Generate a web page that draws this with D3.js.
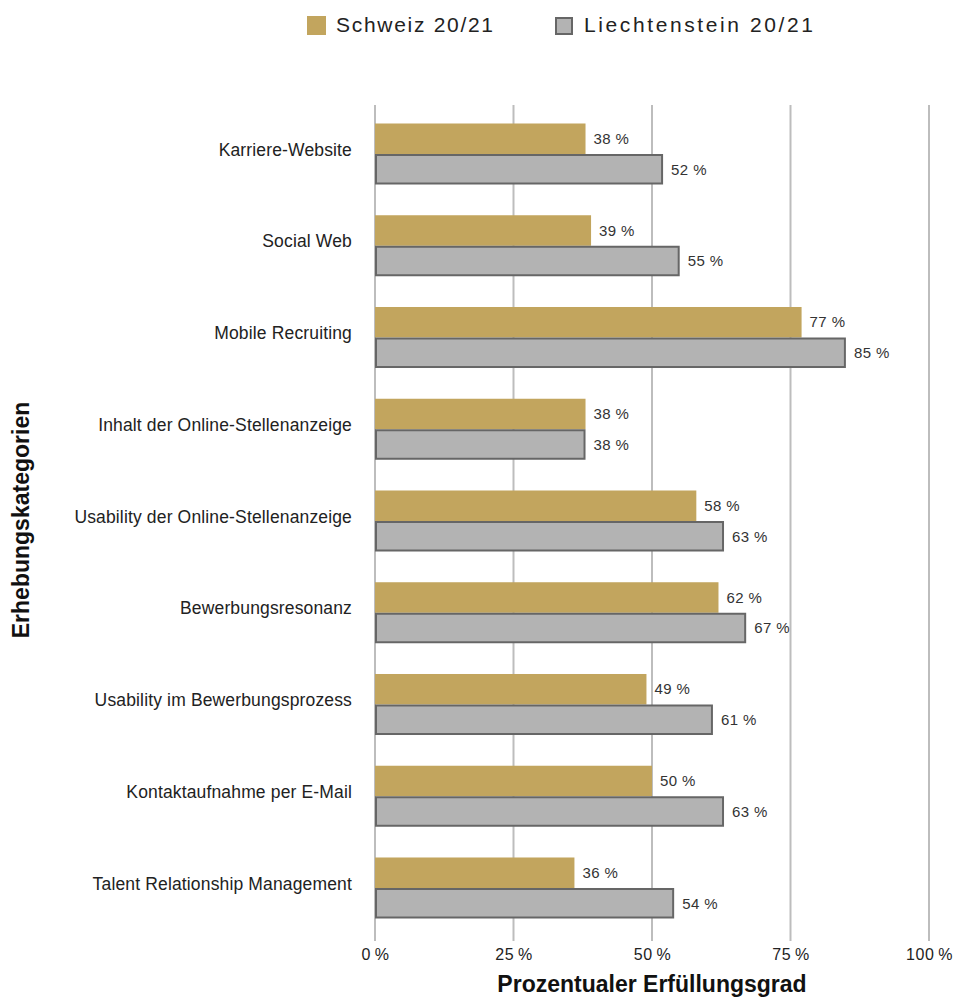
<!DOCTYPE html>
<html><head><meta charset="utf-8">
<script src="https://cdn.jsdelivr.net/npm/d3@7/dist/d3.min.js"></script>
<style>body{margin:0;background:#fff}svg{display:block}</style>
</head><body>
<script>
const categories = ["Karriere-Website","Social Web","Mobile Recruiting","Inhalt der Online-Stellenanzeige","Usability der Online-Stellenanzeige","Bewerbungsresonanz","Usability im Bewerbungsprozess","Kontaktaufnahme per E-Mail","Talent Relationship Management"];
const schweiz = [38,39,77,38,58,62,49,50,36];
const liechtenstein = [52,55,85,38,63,67,61,63,54];
const seriesNames = ["Schweiz 20/21","Liechtenstein 20/21"];
const xTicks = [0,25,50,75,100];

const W=958,H=997;
const svg=d3.select("body").append("svg").attr("width",W).attr("height",H);
const font="'Liberation Sans', Arial, sans-serif";
const narrow="'Liberation Sans Narrow', 'Liberation Sans', Arial, sans-serif";
const gold="#c2a55e", grey="#b3b3b3", greyStroke="#666";

const x=d3.scaleLinear().domain([0,100]).range([375,929]);
const y=d3.scaleBand().domain(categories).range([104,938]).paddingInner(0.335).paddingOuter(0.2125);
const sub=d3.scaleBand().domain([0,1]).range([0,y.bandwidth()]);

// gridlines
svg.append("g").selectAll("line").data(xTicks).join("line")
  .attr("x1",d=>x(d)).attr("x2",d=>x(d)).attr("y1",105).attr("y2",941)
  .attr("stroke","#bdbdbd").attr("stroke-width",2);

// axis tick labels
const xAxis=d3.axisBottom(x).tickValues(xTicks).tickSize(0).tickFormat(d=>d+"\u2009%");
const ga=svg.append("g").attr("transform","translate(0,943)").call(xAxis);
ga.select(".domain").remove();
ga.selectAll("text").attr("font-family",font).attr("font-size",16).attr("letter-spacing","0.6px").attr("fill","#222").attr("dy","0.85em");

// bars
const rows=categories.map((c,i)=>({c,s:schweiz[i],l:liechtenstein[i]}));
const g=svg.append("g");
g.selectAll("rect.s").data(rows).join("rect").attr("class","s")
  .attr("x",x(0)).attr("y",d=>y(d.c)+sub(0)).attr("width",d=>x(d.s)-x(0)).attr("height",sub.bandwidth())
  .attr("fill",gold);
g.selectAll("rect.l").data(rows).join("rect").attr("class","l")
  .attr("x",x(0)+1).attr("y",d=>y(d.c)+sub(1)+1).attr("width",d=>x(d.l)-x(0)-2).attr("height",sub.bandwidth()-2)
  .attr("fill",grey).attr("stroke",greyStroke).attr("stroke-width",2);

// value labels
g.selectAll("text.vs").data(rows).join("text").attr("class","vs")
  .attr("x",d=>x(d.s)+8).attr("y",d=>y(d.c)+sub(0)+sub.bandwidth()/2).attr("dy","0.35em")
  .attr("font-family",font).attr("font-size",15).attr("letter-spacing","0.4px").attr("fill","#333").text(d=>d.s+" %");
g.selectAll("text.vl").data(rows).join("text").attr("class","vl")
  .attr("x",d=>x(d.l)+8).attr("y",d=>y(d.c)+sub(1)+sub.bandwidth()/2).attr("dy","0.35em")
  .attr("font-family",font).attr("font-size",15).attr("letter-spacing","0.4px").attr("fill","#333").text(d=>d.l+" %");

// category labels
const yAxis=d3.axisLeft(y).tickSize(0).tickPadding(0);
const gy=svg.append("g").attr("transform","translate(352,-4)").call(yAxis);
gy.select(".domain").remove();
gy.selectAll("text").attr("font-family",font).attr("font-size",17.5).attr("letter-spacing","0.15px").attr("fill","#222");

// axis titles
svg.append("text").attr("x",652).attr("y",992).attr("text-anchor","middle")
  .attr("font-family",narrow).attr("font-weight","bold").attr("font-size",23).attr("fill","#111")
  .text("Prozentualer Erfüllungsgrad");
svg.append("text").attr("transform","translate(29,520) rotate(-90)").attr("text-anchor","middle")
  .attr("font-family",narrow).attr("font-weight","bold").attr("font-size",23).attr("fill","#111")
  .text("Erhebungskategorien");

// legend
const leg=svg.append("g");
leg.append("rect").attr("x",307).attr("y",16).attr("width",19).attr("height",19).attr("fill",gold);
leg.append("text").attr("x",336).attr("y",32).attr("font-family",font).attr("font-size",21).attr("letter-spacing","1.7px").attr("fill","#222").text(seriesNames[0]);
leg.append("rect").attr("x",556).attr("y",18).attr("width",16).attr("height",16).attr("fill",grey).attr("stroke",greyStroke).attr("stroke-width",2);
leg.append("text").attr("x",584).attr("y",32).attr("font-family",font).attr("font-size",21).attr("letter-spacing","2.6px").attr("fill","#222").text(seriesNames[1]);
</script>
</body></html>
